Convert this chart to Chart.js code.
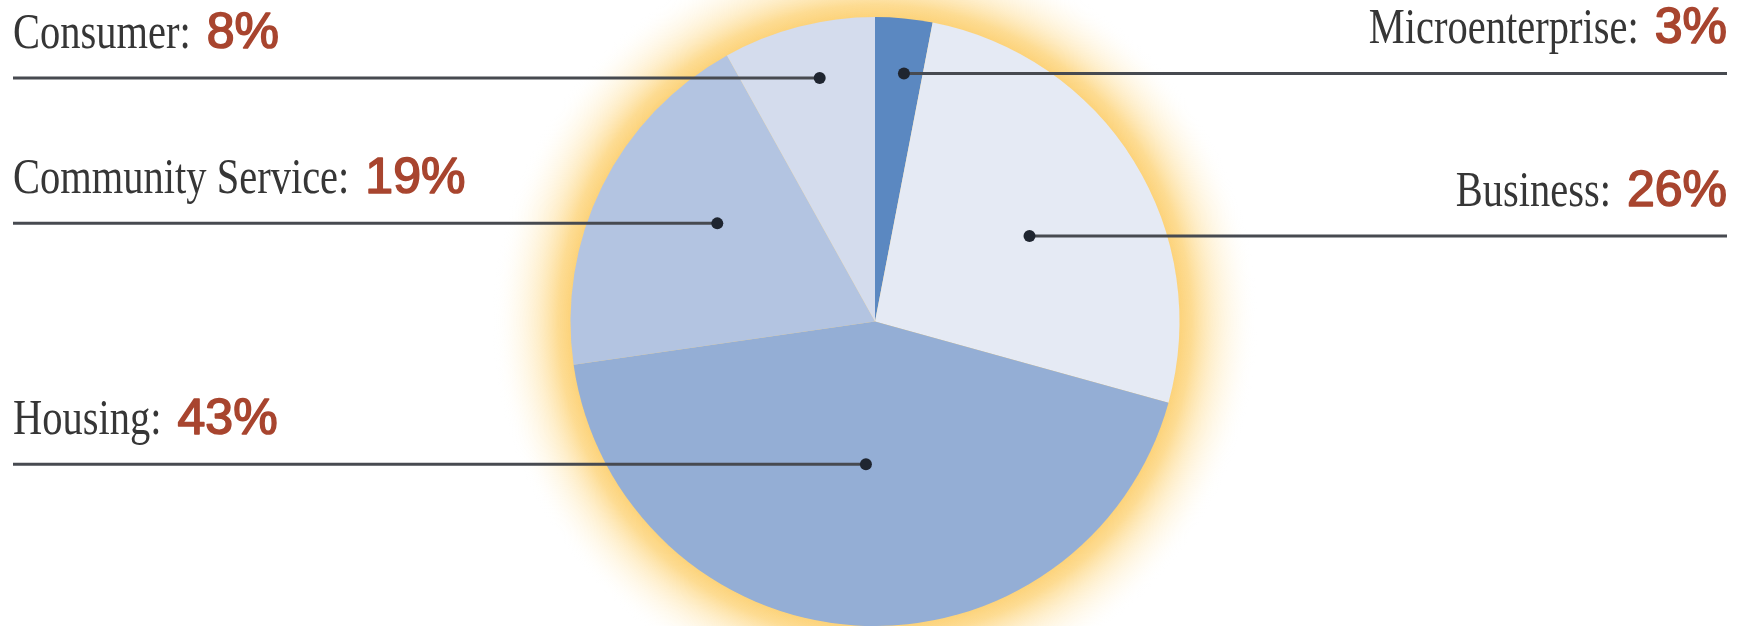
<!DOCTYPE html>
<html>
<head>
<meta charset="utf-8">
<script src="https://cdn.jsdelivr.net/npm/chart.js@4/dist/chart.umd.min.js"></script>
<style>
    html, body { margin: 0; padding: 0; background: #ffffff; }
    #wrap { width: 1748px; height: 626px; position: relative; }
</style>
</head>
<body>
<div id="wrap"><canvas id="pie"></canvas></div>
<script>
// Loan portfolio shares, clockwise from 12 o'clock
const categories = ['Microenterprise', 'Business', 'Housing', 'Community Service', 'Consumer'];
const shares = [3, 26, 43, 19, 8];
const sliceColors = ['#5b88c1', '#e5eaf4', '#94aed5', '#b3c4e1', '#d4dced'];

// where each callout sits: side of the page, and the dot inside the slice
// (fraction of the slice's sweep, fraction of the radius)
const labelSides = ['right', 'right', 'left', 'left', 'left'];
const dotAngleFrac = [0.61, 0.53, 0.50, 0.58, 0.56];
const dotRadiusFrac = [0.82, 0.58, 0.47, 0.61, 0.82];

const LEFT_X = 13;
const RIGHT_X = 1727;
const PCT_FONT = "50px 'Liberation Sans', Arial, sans-serif";
const PCT_COLOR = '#a8452f';

// soft yellow halo behind the pie
const haloPlugin = {
    id: 'halo',
    beforeDatasetsDraw(chart) {
        const arc = chart.getDatasetMeta(0).data[0];
        if (!arc) return;
        const { x, y, outerRadius } = arc.getProps(['x', 'y', 'outerRadius'], true);
        const ctx = chart.ctx;
        const reach = 78;
        const g = ctx.createRadialGradient(x, y, outerRadius - 4, x, y, outerRadius + reach);
        g.addColorStop(0, 'rgba(252, 208, 115, 1)');
        g.addColorStop(0.2, 'rgba(253, 216, 135, 0.9)');
        g.addColorStop(0.45, 'rgba(254, 228, 170, 0.6)');
        g.addColorStop(0.75, 'rgba(255, 242, 212, 0.28)');
        g.addColorStop(1, 'rgba(255, 255, 255, 0)');
        ctx.save();
        ctx.fillStyle = g;
        ctx.beginPath();
        ctx.arc(x, y, outerRadius + reach, 0, Math.PI * 2);
        ctx.fill();
        ctx.restore();
    }
};

function drawSerif(ctx, text, x, y, align) {
    const sx = 0.81;
    ctx.font = "50px 'Liberation Serif', 'Times New Roman', serif";
    const w = ctx.measureText(text).width * sx;
    ctx.save();
    ctx.translate(align === 'right' ? x - w : x, y);
    ctx.scale(sx, 1);
    ctx.textAlign = 'left';
    ctx.fillStyle = '#363636';
    ctx.fillText(text, 0, 0);
    ctx.restore();
    return w;
}

// medium-weight sans for the percentages
function drawPct(ctx, text, x, y, align) {
    ctx.save();
    ctx.font = PCT_FONT;
    ctx.textAlign = align;
    ctx.fillStyle = PCT_COLOR;
    ctx.strokeStyle = PCT_COLOR;
    ctx.lineWidth = 1.6;
    ctx.lineJoin = 'round';
    ctx.fillText(text, x, y);
    ctx.strokeText(text, x, y);
    ctx.restore();
}

// leader lines, dots and labels
const calloutPlugin = {
    id: 'callouts',
    afterDatasetsDraw(chart) {
        const ctx = chart.ctx;
        const arcs = chart.getDatasetMeta(0).data;
        ctx.save();
        ctx.textBaseline = 'alphabetic';
        arcs.forEach((arc, i) => {
            const p = arc.getProps(['x', 'y', 'startAngle', 'endAngle', 'outerRadius'], true);
            const a = p.startAngle + (p.endAngle - p.startAngle) * dotAngleFrac[i];
            const r = p.outerRadius * dotRadiusFrac[i];
            const dx = p.x + Math.cos(a) * r;
            const dy = p.y + Math.sin(a) * r;
            const right = labelSides[i] === 'right';

            ctx.strokeStyle = '#474a50';
            ctx.lineWidth = 3;
            ctx.beginPath();
            ctx.moveTo(right ? RIGHT_X : LEFT_X, dy);
            ctx.lineTo(dx, dy);
            ctx.stroke();

            ctx.fillStyle = '#1f2530';
            ctx.beginPath();
            ctx.arc(dx, dy, 6, 0, Math.PI * 2);
            ctx.fill();

            const label = categories[i] + ':';
            const pct = shares[i] + '%';
            const base = dy - 30;
            const gap = 16;
            ctx.font = PCT_FONT;
            const pw = ctx.measureText(pct).width;
            if (right) {
                drawPct(ctx, pct, RIGHT_X, base, 'right');
                drawSerif(ctx, label, RIGHT_X - pw - gap, base, 'right');
            } else {
                const lw = drawSerif(ctx, label, LEFT_X, base, 'left');
                drawPct(ctx, pct, LEFT_X + lw + gap, base, 'left');
            }
        });
        ctx.restore();
    }
};

new Chart(document.getElementById('pie'), {
    type: 'pie',
    data: {
        labels: categories,
        datasets: [{
            data: shares,
            backgroundColor: sliceColors,
            borderWidth: 0
        }]
    },
    options: {
        responsive: true,
        maintainAspectRatio: false,
        animation: false,
        layout: { padding: { top: 17, left: 2, right: 0, bottom: 0 } },
        plugins: {
            legend: { display: false },
            tooltip: { enabled: false }
        }
    },
    plugins: [haloPlugin, calloutPlugin]
});
</script>
</body>
</html>
